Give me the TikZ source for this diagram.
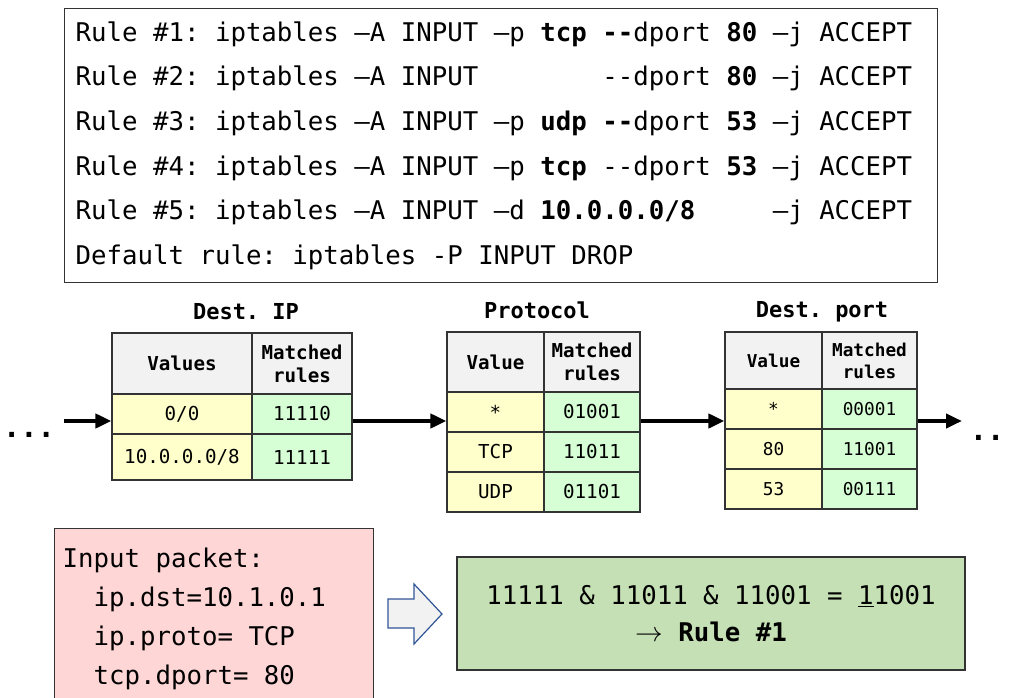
\documentclass[tikz,border=0pt]{standalone}
\usepackage{fontspec}
\setmonofont{DejaVu Sans Mono}
\usetikzlibrary{arrows.meta}
\frenchspacing
\definecolor{hdrgray}{RGB}{242,242,242}
\definecolor{valyellow}{RGB}{255,255,204}
\definecolor{bitgreen}{RGB}{214,255,214}
\definecolor{pktpink}{RGB}{255,214,214}
\definecolor{resgreen}{RGB}{197,224,180}
\definecolor{arrowblue}{RGB}{47,85,151}
% align= sets its own word space, so the mono one is put back in the text
\newcommand\fixspace{\spaceskip=\fontcharwd\font`\x\relax\xspaceskip=\spaceskip}
\newcommand\cellsize{\fontsize{14.4}{17.3}\selectfont}
\tikzset{
  cell/.style={draw=black!80, line width=0.9pt, inner sep=0pt, align=center, font=\ttfamily\cellsize},
  hdr/.style={cell, fill=hdrgray, font=\ttfamily\bfseries\cellsize},
  val/.style={cell, fill=valyellow},
  bits/.style={cell, fill=bitgreen},
  title/.style={font=\ttfamily\bfseries\fontsize{16.5}{20}\selectfont},
  flow/.style={line width=3.5pt, -{Triangle[length=12pt,width=10.5pt]}},
  codebox/.style={draw=black!80, line width=0.9pt, align=left},
}
\begin{document}
\begin{tikzpicture}[x=0.75pt,y=-0.75pt]
\useasboundingbox (0,0) rectangle (1009,698);

\node[codebox, anchor=north west, inner xsep=8.25pt, inner ysep=0pt, text width=638pt, minimum height=205.5pt,
      font=\ttfamily\fontsize{19.3}{33.5}\selectfont] (rules) at (64,8)
  {\fixspace
   Rule \#1: iptables –A INPUT –p \textbf{tcp -{}-}dport \textbf{80} –j ACCEPT\\
   Rule \#2: iptables –A INPUT \phantom{–p tcp} -{}-dport \textbf{80} –j ACCEPT\\
   Rule \#3: iptables –A INPUT –p \textbf{udp -{}-}dport \textbf{53} –j ACCEPT\\
   Rule \#4: iptables –A INPUT –p \textbf{tcp} -{}-dport \textbf{53} –j ACCEPT\\
   Rule \#5: iptables –A INPUT –d \textbf{10.0.0.0/8} \phantom{xxx} –j ACCEPT\\
   Default rule: iptables -P INPUT DROP};

% Dest. IP
\node[title] (iptitle) at (246,312) {Dest. IP};
\node[hdr, minimum width=105pt, minimum height=45.75pt] (ip-h1) at (182,363.5) {Values};
\node[hdr, minimum width=75pt, minimum height=45.75pt] (ip-h2) at (302,363.5) {Matched\\rules};
\node[val, minimum width=105pt, minimum height=30pt] (ip-v1) at (182,414) {0/0};
\node[bits, minimum width=75pt, minimum height=30pt] (ip-b1) at (302,414) {11110};
\node[val, minimum width=105pt, minimum height=34.5pt] (ip-v2) at (182,457) {10.0.0.0/8};
\node[bits, minimum width=75pt, minimum height=34.5pt] (ip-b2) at (302,457) {11111};

% Protocol
\node[title] (prtitle) at (537,310) {Protocol};
\node[hdr, minimum width=72.75pt, minimum height=45pt] (pr-h1) at (495.5,362) {Value};
\node[hdr, minimum width=72pt, minimum height=45pt] (pr-h2) at (592,362) {Matched\\rules};
\node[val, minimum width=72.75pt, minimum height=30pt] (pr-v1) at (495.5,412) {*};
\node[bits, minimum width=72pt, minimum height=30pt] (pr-b1) at (592,412) {01001};
\node[val, minimum width=72.75pt, minimum height=30pt] (pr-v2) at (495.5,452) {TCP};
\node[bits, minimum width=72pt, minimum height=30pt] (pr-b2) at (592,452) {11011};
\node[val, minimum width=72.75pt, minimum height=30pt] (pr-v3) at (495.5,492) {UDP};
\node[bits, minimum width=72pt, minimum height=30pt] (pr-b3) at (592,492) {01101};

% Dest. port
\begin{scope}
\renewcommand\cellsize{\fontsize{13.3}{16.5}\selectfont}
\node[title] (pttitle) at (822,312) {Dest. port};
\node[hdr, minimum width=72.75pt, minimum height=42.75pt] (pt-h1) at (773.5,360.5) {Value};
\node[hdr, minimum width=71.25pt, minimum height=42.75pt] (pt-h2) at (869.5,360.5) {Matched\\rules};
\node[val, minimum width=72.75pt, minimum height=30pt] (pt-v1) at (773.5,409) {*};
\node[bits, minimum width=71.25pt, minimum height=30pt] (pt-b1) at (869.5,409) {00001};
\node[val, minimum width=72.75pt, minimum height=30pt] (pt-v2) at (773.5,449) {80};
\node[bits, minimum width=71.25pt, minimum height=30pt] (pt-b2) at (869.5,449) {11001};
\node[val, minimum width=72.75pt, minimum height=30pt] (pt-v3) at (773.5,489) {53};
\node[bits, minimum width=71.25pt, minimum height=30pt] (pt-b3) at (869.5,489) {00111};
\end{scope}

\node[anchor=base, font=\ttfamily\bfseries\fontsize{21.5}{24}\selectfont] (dotsin) at (29,437) {...};
\node[anchor=base, font=\ttfamily\bfseries\fontsize{21.5}{24}\selectfont] (dotsout) at (987,440) {..};
\coordinate (flowin) at (64,421);
\coordinate (flowout) at (962,421);
\draw[flow] (flowin) -- (flowin -| ip-v1.west);
\draw[flow] (flowin -| ip-b1.east) -- (flowin -| pr-v1.west);
\draw[flow] (flowin -| pr-b1.east) -- (flowin -| pt-v1.west);
\draw[flow] (flowin -| pt-b1.east) -- (flowout);

% packet and result
\node[codebox, fill=pktpink, anchor=north west, inner xsep=6pt, inner ysep=14.25pt, text width=227pt,
      font=\ttfamily\fontsize{19.3}{29.25}\selectfont] (packet) at (54,528)
  {\fixspace
   Input packet:\\
   \phantom{ii}ip.dst=10.1.0.1\\
   \phantom{ii}ip.proto= TCP\\
   \phantom{ii}tcp.dport= 80};
\filldraw[fill=hdrgray, draw=arrowblue, line width=0.9pt]
  (388,599) -- (414,599) -- (414,584) -- (442,614) -- (414,644) -- (414,628) -- (388,628) -- cycle;
\node[codebox, fill=resgreen, align=center, minimum width=381pt, minimum height=84.75pt,
      font=\ttfamily\fontsize{19.3}{27.75}\selectfont] (result) at (711,613.5)
  {\fixspace
   11111 \& 11011 \& 11001 = \underline{1}1001\\
   $\rightarrow$ \textbf{Rule \#1}};
\end{tikzpicture}
\end{document}
